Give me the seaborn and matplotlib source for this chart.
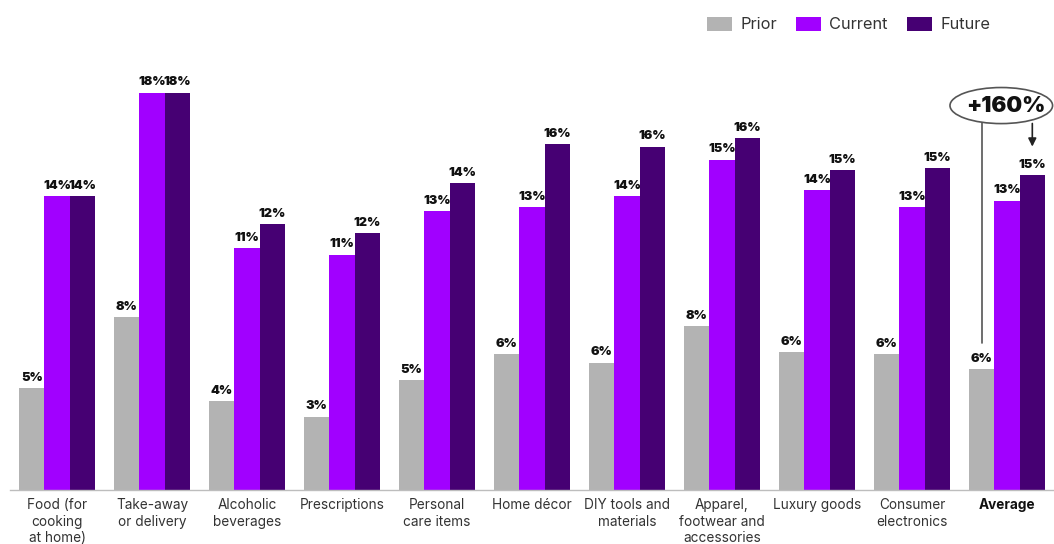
import matplotlib
matplotlib.use("Agg")
import matplotlib.pyplot as plt
from matplotlib.patches import Ellipse
import seaborn as sns
import pandas as pd

categories = [
    "Food (for\ncooking\nat home)", "Take-away\nor delivery", "Alcoholic\nbeverages",
    "Prescriptions", "Personal\ncare items", "Home décor", "DIY tools and\nmaterials",
    "Apparel,\nfootwear and\naccessories", "Luxury goods", "Consumer\nelectronics", "Average",
]
series = ["Prior", "Current", "Future"]
prior = [4.7, 8.0, 4.1, 3.4, 5.1, 6.3, 5.9, 7.6, 6.4, 6.3, 5.6]
current = [13.6, 18.4, 11.2, 10.9, 12.9, 13.1, 13.6, 15.3, 13.9, 13.1, 13.4]
future = [13.6, 18.4, 12.3, 11.9, 14.2, 16.0, 15.9, 16.3, 14.8, 14.9, 14.6]
colors = ["#B3B3B3", "#A100FF", "#460073"]
callout = "+160%"

rows = []
for s, vals in zip(series, [prior, current, future]):
    for c, v in zip(categories, vals):
        rows.append({"category": c, "series": s, "value": v})
df = pd.DataFrame(rows)

sns.set_theme(style="white")
plt.rcParams["font.family"] = ["Inter", "DejaVu Sans"]

fig = plt.figure(figsize=(10.54, 5.44), dpi=100)
ax = fig.add_axes([10 / 1054, 0.0993, 1044 / 1054, 0.794])

sns.barplot(data=df, x="category", y="value", hue="series", order=categories,
            hue_order=series, palette=colors, saturation=1, width=0.8,
            linewidth=0, errorbar=None, ax=ax)

ax.set_xlim(-0.495, 10.495)
ax.set_ylim(0, 20)
ax.set_xlabel("")
ax.set_ylabel("")
ax.set_yticks([])
for side in ["left", "right", "top"]:
    ax.spines[side].set_visible(False)
ax.spines["bottom"].set_color("#BDBDBD")
ax.spines["bottom"].set_linewidth(1.0)
ax.tick_params(axis="x", length=0, pad=6, labelsize=9.8, labelcolor="#333333")
for lbl in ax.get_xticklabels():
    lbl.set_linespacing(1.2)
    if lbl.get_text() == "Average":
        lbl.set_fontweight("bold")
        lbl.set_color("#111111")

# value labels above each bar
for container in ax.containers:
    ax.bar_label(container, labels=[f"{v:.0f}%" for v in container.datavalues],
                 padding=3, fontsize=9.2, fontweight=900, color="#111111")

# legend in the top-right corner
handles, labels = ax.get_legend_handles_labels()
ax.legend(handles, labels, loc="center left", bbox_to_anchor=(0.657, 0.955),
          bbox_transform=fig.transFigure, ncol=3, frameon=False, fontsize=11.8,
          handlelength=1.5, handleheight=1.0, handletextpad=0.5,
          columnspacing=1.2, labelcolor="#333333")

# growth callout on the average group
bar_w = 0.8 / 3
x_prior = 10 - bar_w
x_future = 10 + bar_w
ell = Ellipse((9.94, 17.8), 1.08, 1.67, facecolor="white", edgecolor="#555555",
              linewidth=1.2, clip_on=False, zorder=5)
ax.add_patch(ell)
ax.text(9.99, 17.8, callout, ha="center", va="center", fontsize=16,
        fontweight=900, color="#111111", zorder=6, clip_on=False)
ax.plot([x_prior, x_prior], [16.97, prior[-1] + 1.2], color="#555555",
        linewidth=1.2, zorder=4, clip_on=False)
ax.annotate("", xy=(x_future, future[-1] + 1.3), xytext=(x_future, 16.97),
            arrowprops=dict(arrowstyle="-|>", color="#222222", lw=1.2,
                            mutation_scale=12, shrinkA=0, shrinkB=0),
            zorder=6)

fig.savefig("out.png", dpi=100)
